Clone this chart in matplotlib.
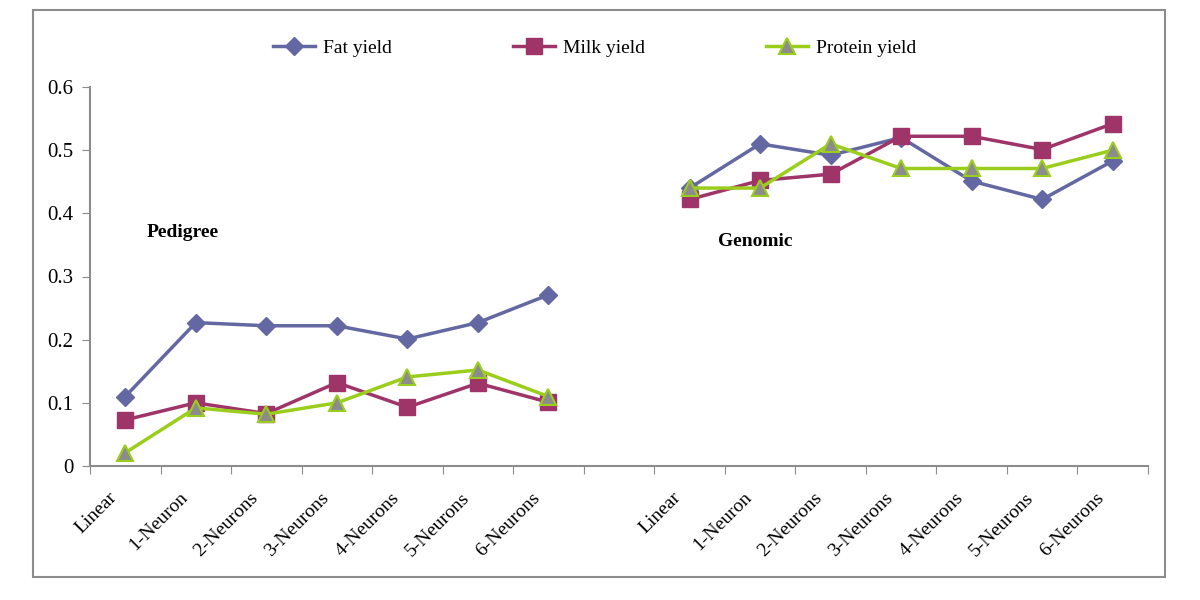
import matplotlib
matplotlib.use("Agg")
import matplotlib.pyplot as plt
from matplotlib.patches import Rectangle
from matplotlib.transforms import ScaledTranslation

plt.rcParams['font.family'] = ['Liberation Serif', 'DejaVu Serif']

models = ["Linear", "1-Neuron", "2-Neurons", "3-Neurons", "4-Neurons", "5-Neurons", "6-Neurons"]

fat_pedigree = [0.11, 0.227, 0.222, 0.222, 0.201, 0.227, 0.271]
milk_pedigree = [0.073, 0.100, 0.083, 0.132, 0.093, 0.131, 0.101]
protein_pedigree = [0.021, 0.092, 0.082, 0.100, 0.141, 0.152, 0.110]

fat_genomic = [0.440, 0.510, 0.492, 0.520, 0.451, 0.422, 0.483]
milk_genomic = [0.422, 0.452, 0.462, 0.522, 0.522, 0.501, 0.542]
protein_genomic = [0.440, 0.440, 0.510, 0.471, 0.471, 0.471, 0.500]

fig = plt.figure(figsize=(12, 6), dpi=100)
ax = fig.add_axes([90 / 1200, 1 - 466 / 600, (1148 - 90) / 1200, (466 - 87) / 600])

# outer frame
fig.patches.append(Rectangle((33 / 1200, 1 - 577 / 600), (1165 - 33) / 1200, (577 - 10) / 600,
                             transform=fig.transFigure, fill=False, edgecolor='#8c8c8c', lw=1.5))

xp = list(range(7))
xg = [i + 8 for i in range(7)]

styles = [
    ("Fat yield", fat_pedigree, fat_genomic, dict(color='#6468a2', marker='D', ms=9, mfc='#6468a2', mec='#6468a2')),
    ("Milk yield", milk_pedigree, milk_genomic, dict(color='#9e3468', marker='s', ms=11, mfc='#9e3468', mec='#9e3468')),
    ("Protein yield", protein_pedigree, protein_genomic, dict(color='#9acd1c', marker='^', ms=12, mfc='#8c8c8c', mec='#9acd1c', mew=1.5)),
]
for name, ped, gen, st in styles:
    ax.plot(xp, ped, lw=2.5, label=name, **st)
    ax.plot(xg, gen, lw=2.5, **st)

ax.set_xlim(-0.5, 14.5)
ax.set_ylim(0, 0.6)
ax.set_yticks([0, 0.1, 0.2, 0.3, 0.4, 0.5, 0.6])
ax.set_yticklabels(["0", "0.1", "0.2", "0.3", "0.4", "0.5", "0.6"], fontsize=15)

ax.set_xticks([i - 0.5 for i in range(16)])
ax.set_xticklabels([])
ax.tick_params(axis='x', length=6, color='#8c8c8c', direction='out')
ax.tick_params(axis='y', length=6, color='#8c8c8c', direction='out', pad=6)

# category labels, rotated, placed under each point
lab_tr = ax.get_xaxis_transform() + ScaledTranslation(-0.17, -0.23, fig.dpi_scale_trans)
for x, name in zip(xp + xg, models + models):
    ax.text(x, 0, name, transform=lab_tr, rotation=45, ha='right', va='top',
            rotation_mode='anchor', fontsize=14, clip_on=False)

for s in ['top', 'right']:
    ax.spines[s].set_visible(False)
for s in ['left', 'bottom']:
    ax.spines[s].set_color('#8c8c8c')
    ax.spines[s].set_linewidth(1.5)

ax.text(0.3, 0.37, "Pedigree", fontsize=14, fontweight='bold', ha='left', va='center')
ax.text(8.4, 0.355, "Genomic", fontsize=14, fontweight='bold', ha='left', va='center')

fig.legend(loc='center', bbox_to_anchor=(594.5 / 1200, 1 - 48 / 600), ncol=3, frameon=False,
           fontsize=14, columnspacing=6.2, handlelength=2.2, handletextpad=0.4)

fig.savefig("out.png", dpi=100)
